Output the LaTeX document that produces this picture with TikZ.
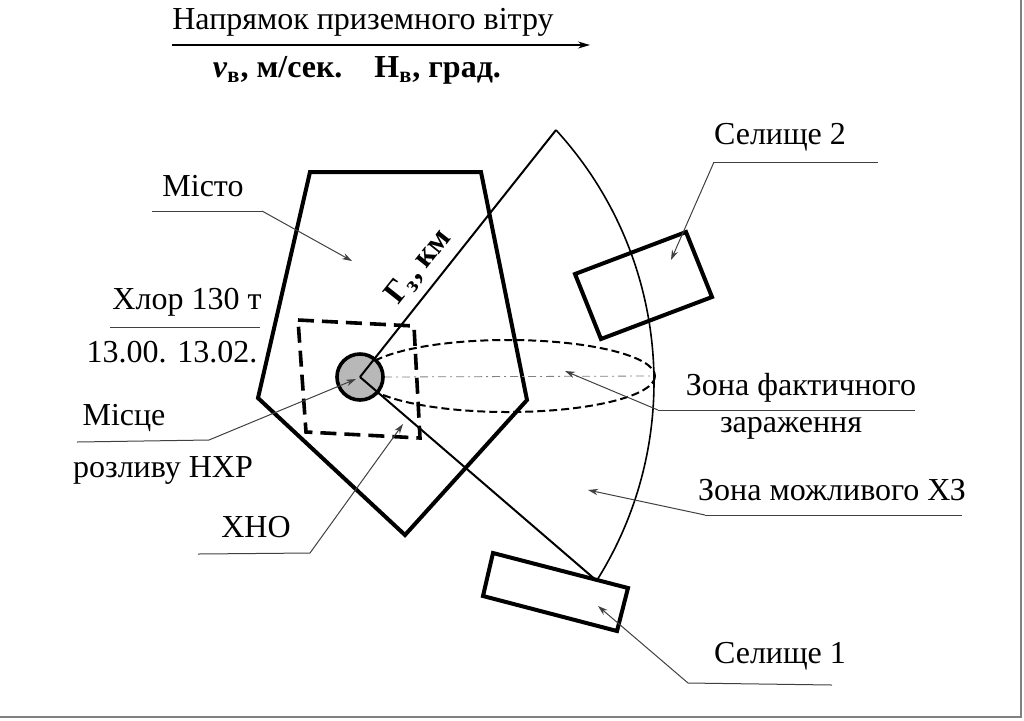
\documentclass[tikz,border=0pt]{standalone}
\usepackage{fontspec}
\setmainfont{Liberation Serif}
\usetikzlibrary{arrows.meta}

\begin{document}
\begin{tikzpicture}[x = 0.5pt, y = -0.5pt, font = \rmfamily\fontsize{16}{19}\selectfont,
  heavy/.style = {line width = 2pt, line join = miter},
  leader/.style = {line width = 0.5pt, color = black!75},
  pointer/.style = {leader, -{Stealth[length = 5pt, width = 3.2pt]}}]
\useasboundingbox (0, 0) rectangle (1024, 720);
\draw[line width = 0.8pt, color = gray] (1021, 0) -- (1021, 717) -- (0, 717);

% wind direction
\node (wind) at (363, 22) {Напрямок приземного вітру};
\coordinate (windL) at (172, 45);
\coordinate (windR) at (590, 45);
\draw[line width = 0.6pt, -{Stealth[length = 6pt, width = 3.5pt]}] (windL) -- (windR);
\node[font = \rmfamily\fontsize{16}{19}\selectfont\bfseries] (speed) at (357, 70)
  {\textit{v}\textsubscript{в}, м/сек.\quad Н\textsubscript{в}, град.};

% city
\coordinate (c1) at (310, 172);
\coordinate (c2) at (481, 172);
\coordinate (c3) at (527, 400);
\coordinate (c4) at (405, 535);
\coordinate (c5) at (258, 398);
\draw[heavy] (c1) -- (c2) -- (c3) -- (c4) -- (c5) -- cycle;

% chemical object
\draw[line width = 1.8pt, dash pattern = on 8pt off 4pt]
  (298, 320) -- (414, 326) -- (420, 438) -- (306, 432) -- cycle;

% zones
\coordinate (src) at (360, 377);
\coordinate (sTop) at (556, 130);
\coordinate (sBot) at (597, 581);
\coordinate (axisL) at (384, 377);
\coordinate (axisR) at (652, 376);
\draw[line width = 1pt, dash pattern = on 4pt off 2pt] (508, 376) ellipse [x radius = 147, y radius = 36];
\draw[line width = 0.4pt, color = gray, dash pattern = on 4pt off 2pt on 1pt off 2pt] (axisL) -- (axisR);
\draw[line width = 1.8pt, fill = black!28] (src) circle [radius = 23];
\draw[line width = 1pt] (src) -- (sTop);
\draw[line width = 1pt] (src) -- (sBot);
\draw[line width = 0.8pt] (sTop) arc [start angle = -42.5, end angle = 32.2, radius = 373];
\node[rotate = 51.6, font = \rmfamily\fontsize{16}{19}\selectfont\bfseries] (depth) at (419, 267)
  {Г\textsubscript{з}, км};

% settlements
\draw[heavy] (575, 274) -- (686, 232) -- (712, 297) -- (601, 339) -- cycle;
\draw[heavy] (493, 553) -- (628, 588) -- (617, 631) -- (483, 596) -- cycle;

% labels
\node (misto) at (203, 186) {Місто};
\coordinate (mistoL) at (152, 211);
\coordinate (mistoK) at (262, 211);
\coordinate (mistoT) at (352, 261);
\draw[leader] (mistoL) -- (mistoK);
\draw[pointer] (mistoK) -- (mistoT);

\node (chlor) at (187, 302) {Хлор 130 т};
\coordinate (chlorL) at (110, 327);
\coordinate (chlorR) at (260, 327);
\draw[leader] (chlorL) -- (chlorR);
\node (time) at (172, 352) {13.00. 13.02.};

\node (misce) at (124, 418) {Місце};
\node (rozl) at (163, 470) {розливу НХР};
\coordinate (misceL) at (77, 442);
\coordinate (misceK) at (209, 440);
\coordinate (misceT) at (356, 379);
\draw[leader] (misceL) -- (misceK);
\draw[pointer] (misceK) -- (misceT);

\node (xno) at (256, 527) {ХНО};
\coordinate (xnoL) at (198, 554);
\coordinate (xnoK) at (310, 553);
\coordinate (xnoT) at (403, 424);
\draw[leader] (xnoL) -- (xnoK);
\draw[pointer] (xnoK) -- (xnoT);

\node (sel2) at (780, 137) {Селище 2};
\coordinate (sel2R) at (878, 162);
\coordinate (sel2K) at (714, 162);
\coordinate (sel2T) at (671, 260);
\draw[leader] (sel2R) -- (sel2K);
\draw[pointer] (sel2K) -- (sel2T);

\node (fact) at (801, 388) {Зона фактичного};
\node (fact2) at (791, 428) {зараження};
\coordinate (factR) at (915, 410);
\coordinate (factK) at (658, 410);
\coordinate (factT) at (565, 371);
\draw[leader] (factR) -- (factK);
\draw[pointer] (factK) -- (factT);

\node (poss) at (832, 490) {Зона можливого ХЗ};
\coordinate (possR) at (962, 515);
\coordinate (possK) at (705, 515);
\coordinate (possT) at (588, 490);
\draw[leader] (possR) -- (possK);
\draw[pointer] (possK) -- (possT);

\node (sel1) at (780, 656) {Селище 1};
\coordinate (sel1R) at (832, 685);
\coordinate (sel1K) at (688, 683);
\coordinate (sel1T) at (598, 606);
\draw[leader] (sel1R) -- (sel1K);
\draw[pointer] (sel1K) -- (sel1T);
\end{tikzpicture}
\end{document}
